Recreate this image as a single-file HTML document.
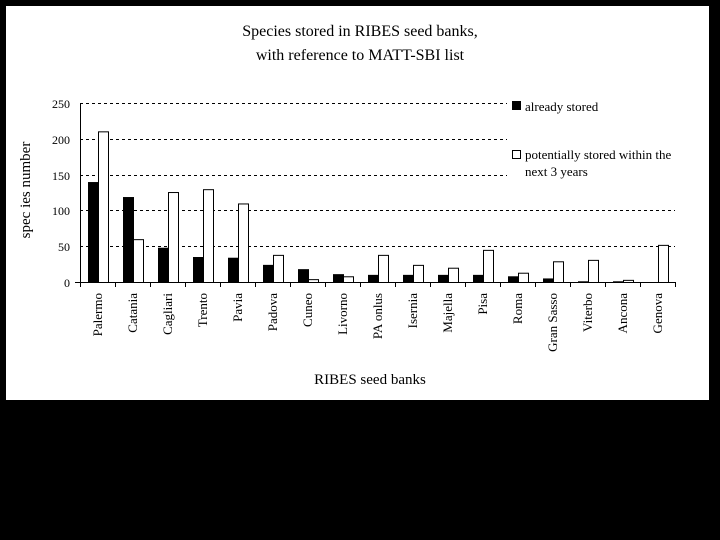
<!DOCTYPE html>
<html><head><meta charset="utf-8"><style>
html,body{margin:0;padding:0;background:#000;}
svg{display:block;}
text{font-family:"Liberation Serif",serif;fill:#000;}
</style></head><body>
<svg width="720" height="540" xmlns="http://www.w3.org/2000/svg">
<rect x="0" y="0" width="720" height="540" fill="#000"/>
<rect x="6" y="6" width="703" height="394" fill="#fff"/>
<text x="360" y="36" font-size="16" text-anchor="middle">Species stored in RIBES seed banks,</text>
<text x="360" y="60" font-size="16" text-anchor="middle">with reference to MATT-SBI list</text>
<g stroke="#000" stroke-width="1" stroke-dasharray="3,3">
<line x1="80" y1="103.5" x2="507" y2="103.5"/>
<line x1="80" y1="139.5" x2="507" y2="139.5"/>
<line x1="80" y1="175.5" x2="507" y2="175.5"/>
<line x1="80" y1="210.5" x2="675" y2="210.5"/>
<line x1="80" y1="246.5" x2="675" y2="246.5"/>
</g>
<g font-size="12" text-anchor="end">
<text x="70" y="108">250</text><text x="70" y="144">200</text><text x="70" y="180">150</text>
<text x="70" y="215">100</text><text x="70" y="251">50</text><text x="70" y="287">0</text>
</g>
<g id="bars" stroke="#000" stroke-width="1"></g>
<line x1="80.5" y1="103" x2="80.5" y2="282" stroke="#000"/>
<line x1="75" y1="282.5" x2="675" y2="282.5" stroke="#000"/>
<g id="ticks" stroke="#000"></g>
<g id="labels" font-size="13" text-anchor="end"></g>
<text transform="translate(30,190) rotate(-90)" font-size="15" text-anchor="middle">spec ies number</text>
<text x="370" y="384" font-size="15" text-anchor="middle">RIBES seed banks</text>
<rect x="512" y="101" width="9" height="9" fill="#000"/>
<text x="525" y="111" font-size="13">already stored</text>
<rect x="512.5" y="150.5" width="8" height="8" fill="#fff" stroke="#000"/>
<text x="525" y="159" font-size="13">potentially stored within the</text>
<text x="525" y="176" font-size="13">next 3 years</text>
<script>
var d=[["Palermo",140,211],["Catania",119,60],["Cagliari",48,126],["Trento",35,130],["Pavia",34,110],["Padova",24,38],["Cuneo",18,4],["Livorno",11,8],["PA onlus",10,38],["Isernia",10,24],["Majella",10,20],["Pisa",10,45],["Roma",8,13],["Gran Sasso",5,29],["Viterbo",1,31],["Ancona",1,3],["Genova",0,52]];
var ns="http://www.w3.org/2000/svg",b=document.getElementById("bars"),t=document.getElementById("ticks"),l=document.getElementById("labels");
var s=178.5/250;
function el(p,n,a){var e=document.createElementNS(ns,n);for(var k in a)e.setAttribute(k,a[k]);p.appendChild(e);return e;}
for(var i=0;i<=17;i++){var x=80.5+35*i;el(t,"line",{x1:x,y1:282,x2:x,y2:287});}
d.forEach(function(r,i){var x0=80+35*i;
if(r[1]>0){var h=r[1]*s;el(b,"rect",{x:x0+8.5,y:282.5-h,width:10,height:h,fill:"#000"});}
var h2=r[2]*s;el(b,"rect",{x:x0+18.5,y:282.5-h2,width:10,height:h2,fill:"#fff"});
var tx=el(l,"text",{transform:"translate("+(x0+22)+",293) rotate(-90)"});tx.textContent=r[0];});
</script>
</svg>
</body></html>
